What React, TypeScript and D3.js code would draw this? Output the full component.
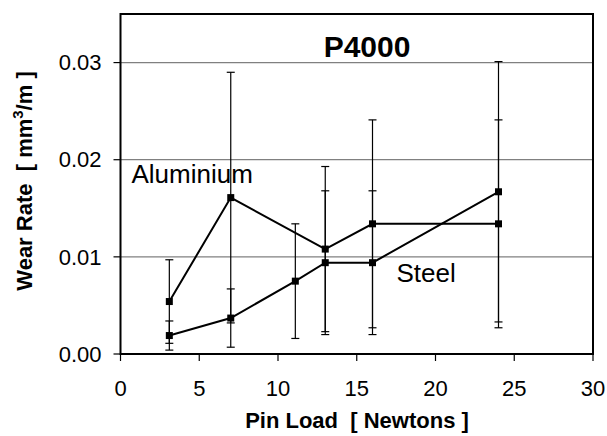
import React from "react";
import * as d3 from "d3";

const alLoads = [3.1, 7, 13, 16, 24];
const alRates = [0.0054, 0.0161, 0.0108, 0.0134, 0.0134];
const alErr = [0.0043, 0.0129, 0.0085, 0.0107, 0.0107];

const stLoads = [3.1, 7, 11.1, 13, 16, 24];
const stRates = [0.0019, 0.0037, 0.0075, 0.0094, 0.0094, 0.0167];
const stErr = [0.0015, 0.003, 0.0059, 0.0074, 0.0074, 0.0134];

const xTicks = [0, 5, 10, 15, 20, 25, 30];
const yTicks = [0, 0.01, 0.02, 0.03];
const gridTicks = [0.01, 0.02, 0.03];

const W = 607;
const H = 436;
const left = 120.5;
const right = 593;
const top = 14;
const bottom = 354;
const FONT = "'Liberation Sans', Arial, Helvetica, sans-serif";

export default function App() {
  const x = d3.scaleLinear().domain([0, 30]).range([left, right]);
  const y = d3.scaleLinear().domain([0, 0.035]).range([bottom, top]);
  const line = d3
    .line<[number, number]>()
    .x((d) => x(d[0]))
    .y((d) => y(d[1]));

  const series = [
    { loads: alLoads, rates: alRates, err: alErr },
    { loads: stLoads, rates: stRates, err: stErr },
  ];
  const cap = 4;
  const ms = 3.5;

  return (
    <svg
      width={W}
      height={H}
      style={{ position: "absolute", left: 0, top: 0, background: "#fff" }}
      fontFamily={FONT}
    >
      <rect x={0} y={0} width={W} height={H} fill="#fff" />
      {gridTicks.map((t) => (
        <line
          key={"g" + t}
          x1={left}
          x2={right}
          y1={y(t)}
          y2={y(t)}
          stroke="#808080"
          strokeWidth={1.2}
        />
      ))}
      {/* error bars */}
      {series.map((s, si) =>
        s.loads.map((l, i) => {
          const cx = x(l);
          const y1 = y(s.rates[i] + s.err[i]);
          const y2 = y(s.rates[i] - s.err[i]);
          return (
            <g key={`e${si}-${i}`} stroke="#000" strokeWidth={1.2}>
              <line x1={cx} x2={cx} y1={y1} y2={y2} />
              <line x1={cx - cap} x2={cx + cap} y1={y1} y2={y1} />
              <line x1={cx - cap} x2={cx + cap} y1={y2} y2={y2} />
            </g>
          );
        })
      )}
      {series.map((s, si) => (
        <path
          key={"l" + si}
          d={line(s.loads.map((l, i) => [l, s.rates[i]] as [number, number])) || ""}
          fill="none"
          stroke="#000"
          strokeWidth={2}
        />
      ))}
      {series.map((s, si) =>
        s.loads.map((l, i) => (
          <rect
            key={`m${si}-${i}`}
            x={x(l) - ms}
            y={y(s.rates[i]) - ms}
            width={ms * 2}
            height={ms * 2}
            fill="#000"
          />
        ))
      )}
      {/* frame */}
      <rect
        x={left}
        y={top}
        width={right - left}
        height={bottom - top}
        fill="none"
        stroke="#000"
        strokeWidth={2}
      />
      {/* y ticks */}
      {yTicks.map((t) => (
        <g key={"yt" + t}>
          <line x1={left - 7} x2={left} y1={y(t)} y2={y(t)} stroke="#000" strokeWidth={1.2} />
          <text
            x={101.5}
            y={y(t)}
            dy="0.35em"
            textAnchor="end"
            fontSize={22}
            fill="#000"
          >
            {d3.format(".2f")(t)}
          </text>
        </g>
      ))}
      {/* x ticks */}
      {xTicks.map((t) => (
        <g key={"xt" + t}>
          <line x1={x(t)} x2={x(t)} y1={bottom} y2={bottom + 7} stroke="#000" strokeWidth={1.2} />
          <text x={x(t)} y={396} textAnchor="middle" fontSize={22} fill="#000">
            {t}
          </text>
        </g>
      ))}
      <text
        x={367}
        y={57}
        textAnchor="middle"
        fontSize={30}
        fontWeight="bold"
        fill="#000"
      >
        P4000
      </text>
      <text x={131.5} y={183} fontSize={26} fill="#000">
        Aluminium
      </text>
      <text x={396.5} y={282} fontSize={26} fill="#000">
        Steel
      </text>
      <text
        x={357}
        y={428}
        textAnchor="middle"
        fontSize={22}
        fontWeight="bold"
        fill="#000"
        style={{ whiteSpace: "pre" }}
      >
        {"Pin Load  [ Newtons ]"}
      </text>
      <text
        transform={`translate(32, 181) rotate(-90)`}
        textAnchor="middle"
        fontSize={22}
        fontWeight="bold"
        fill="#000"
        style={{ whiteSpace: "pre" }}
      >
        {"Wear Rate  [ mm"}
        <tspan fontSize={15} dy={-9}>
          3
        </tspan>
        <tspan dy={9}>{"/m ]"}</tspan>
      </text>
    </svg>
  );
}
